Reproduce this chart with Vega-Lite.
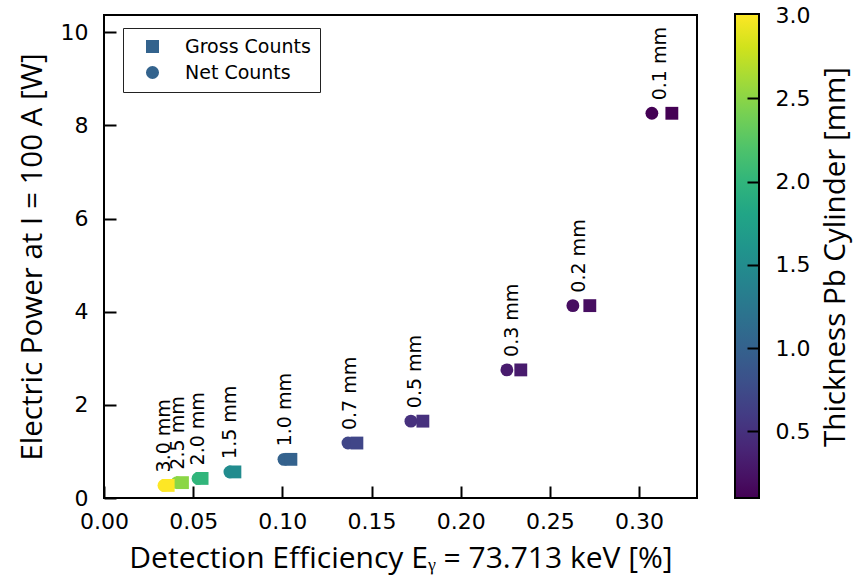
{
  "$schema": "https://vega.github.io/schema/vega-lite/v6.json",
  "width": 593,
  "height": 483,
  "autosize": "none",
  "padding": {"left": 104, "top": 15, "right": 163, "bottom": 79},
  "background": "white",
  "config": {
    "view": {"stroke": "black", "strokeWidth": 2},
    "font": "DejaVu Sans"
  },
  "data": {
    "values": [
      {"thickness": 0.1, "label": "0.1 mm", "type": "Net Counts", "efficiency": 0.3072, "power": 8.26},
      {"thickness": 0.1, "label": "0.1 mm", "type": "Gross Counts", "efficiency": 0.3184, "power": 8.26},
      {"thickness": 0.2, "label": "0.2 mm", "type": "Net Counts", "efficiency": 0.2629, "power": 4.13},
      {"thickness": 0.2, "label": "0.2 mm", "type": "Gross Counts", "efficiency": 0.2724, "power": 4.13},
      {"thickness": 0.3, "label": "0.3 mm", "type": "Net Counts", "efficiency": 0.2259, "power": 2.75},
      {"thickness": 0.3, "label": "0.3 mm", "type": "Gross Counts", "efficiency": 0.2337, "power": 2.75},
      {"thickness": 0.5, "label": "0.5 mm", "type": "Net Counts", "efficiency": 0.1721, "power": 1.65},
      {"thickness": 0.5, "label": "0.5 mm", "type": "Gross Counts", "efficiency": 0.1788, "power": 1.65},
      {"thickness": 0.7, "label": "0.7 mm", "type": "Net Counts", "efficiency": 0.1368, "power": 1.18},
      {"thickness": 0.7, "label": "0.7 mm", "type": "Gross Counts", "efficiency": 0.1418, "power": 1.18},
      {"thickness": 1.0, "label": "1.0 mm", "type": "Net Counts", "efficiency": 0.1009, "power": 0.83},
      {"thickness": 1.0, "label": "1.0 mm", "type": "Gross Counts", "efficiency": 0.1048, "power": 0.83},
      {"thickness": 1.5, "label": "1.5 mm", "type": "Net Counts", "efficiency": 0.0706, "power": 0.56},
      {"thickness": 1.5, "label": "1.5 mm", "type": "Gross Counts", "efficiency": 0.0734, "power": 0.56},
      {"thickness": 2.0, "label": "2.0 mm", "type": "Net Counts", "efficiency": 0.0527, "power": 0.42},
      {"thickness": 2.0, "label": "2.0 mm", "type": "Gross Counts", "efficiency": 0.055, "power": 0.42},
      {"thickness": 2.5, "label": "2.5 mm", "type": "Net Counts", "efficiency": 0.041, "power": 0.33},
      {"thickness": 2.5, "label": "2.5 mm", "type": "Gross Counts", "efficiency": 0.044, "power": 0.33},
      {"thickness": 3.0, "label": "3.0 mm", "type": "Net Counts", "efficiency": 0.0336, "power": 0.27},
      {"thickness": 3.0, "label": "3.0 mm", "type": "Gross Counts", "efficiency": 0.036, "power": 0.27}
    ]
  },
  "resolve": {"scale": {"y": "independent"}, "axis": {"y": "independent"}},
  "layer": [
    {
      "mark": {"type": "point", "filled": true, "opacity": 1, "size": 165},
      "encoding": {
        "x": {
          "field": "efficiency", "type": "quantitative",
          "scale": {"domain": [0, 0.3325], "nice": false, "zero": false},
          "axis": {
            "title": "Detection Efficiency Eᵧ = 73.713 keV [%]",
            "values": [0, 0.05, 0.1, 0.15, 0.2, 0.25, 0.3],
            "format": ".2f",
            "grid": false, "domain": false,
            "tickSize": -12, "tickWidth": 2, "tickColor": "black",
            "labelFont": "DejaVu Sans", "labelFontSize": 22, "labelColor": "black",
            "labelPadding": 25, "labelFlush": false, "labelOverlap": false,
            "titleFont": "Open Sans", "titleFontSize": 30, "titleFontWeight": "normal", "titleColor": "black",
            "titlePadding": 11
          }
        },
        "y": {
          "field": "power", "type": "quantitative",
          "scale": {"domain": [0, 10.37], "nice": false, "zero": false},
          "axis": {
            "title": "Electric Power at I = 100 A [W]",
            "values": [0, 2, 4, 6, 8, 10],
            "grid": false, "domain": false,
            "tickSize": -12, "tickWidth": 2, "tickColor": "black",
            "labelFont": "DejaVu Sans", "labelFontSize": 22, "labelColor": "black",
            "labelPadding": 28, "labelFlush": false, "labelOverlap": false,
            "titleFont": "Open Sans", "titleFontSize": 29.5, "titleFontWeight": "normal", "titleColor": "black",
            "titlePadding": 13
          }
        },
        "color": {
          "field": "thickness", "type": "quantitative",
          "scale": {"scheme": "viridis", "domain": [0.1, 3.0]},
          "legend": {
            "orient": "none", "legendX": 631, "legendY": -1, "padding": 0, "direction": "vertical",
            "gradientLength": 484, "gradientThickness": 24,
            "gradientStrokeColor": "black", "gradientStrokeWidth": 2,
            "values": [0.5, 1.0, 1.5, 2.0, 2.5, 3.0],
            "labelExpr": "''", "labelOffset": 0,
            "title": null, "zindex": 0
          }
        },
        "shape": {
          "field": "type", "type": "nominal",
          "scale": {"domain": ["Gross Counts", "Net Counts"], "range": ["square", "circle"]},
          "legend": {
            "orient": "none", "legendX": 19, "legendY": 13, "title": null,
            "fillColor": "white", "strokeColor": "#222222", "cornerRadius": 0,
            "padding": 9, "symbolSize": 170, "symbolOffset": 11,
            "symbolFillColor": "#33638d", "symbolStrokeWidth": 0,
            "labelFont": "DejaVu Sans", "labelFontSize": 19, "labelColor": "black",
            "labelOffset": 23, "rowPadding": 6,
            "encode": {
              "legend": {"update": {"strokeWidth": {"value": 2.5}}},
              "symbols": {"update": {"fill": {"value": "#33638d"}, "stroke": {"value": "#33638d"}, "opacity": {"value": 1}}}
            }
          }
        }
      }
    },
    {
      "mark": {"type": "text", "angle": 270, "align": "left", "baseline": "middle", "dx": 13, "dy": -2, "font": "DejaVu Sans", "fontSize": 19, "color": "black"},
      "encoding": {
        "x": {"aggregate": "mean", "field": "efficiency", "type": "quantitative"},
        "y": {"field": "power", "type": "quantitative", "scale": {"domain": [0, 10.37], "nice": false, "zero": false}, "axis": null},
        "text": {"field": "label", "type": "nominal"}
      }
    },
    {
      "mark": {"type": "point", "opacity": 0},
      "encoding": {
        "y": {
          "field": "thickness", "type": "quantitative",
          "scale": {"domain": [0.1, 3.0], "nice": false, "zero": false},
          "axis": {
            "orient": "right", "offset": 61, "zindex": 3,
            "title": "Thickness Pb Cylinder [mm]", "titleAngle": 270, "titleBaseline": "top",
            "values": [0.5, 1.0, 1.5, 2.0, 2.5, 3.0], "format": ".1f",
            "grid": false, "domain": false,
            "tickSize": -11, "tickWidth": 2, "tickColor": "black",
            "tickOpacity": {"condition": {"test": "datum.value >= 2.99", "value": 0}, "value": 1},
            "labelFont": "DejaVu Sans", "labelFontSize": 22, "labelColor": "black",
            "labelPadding": 28, "labelFlush": false, "labelOverlap": false,
            "titleFont": "Open Sans", "titleFontSize": 29.5, "titleFontWeight": "normal", "titleColor": "black",
            "titlePadding": 12
          }
        }
      }
    }
  ]
}
